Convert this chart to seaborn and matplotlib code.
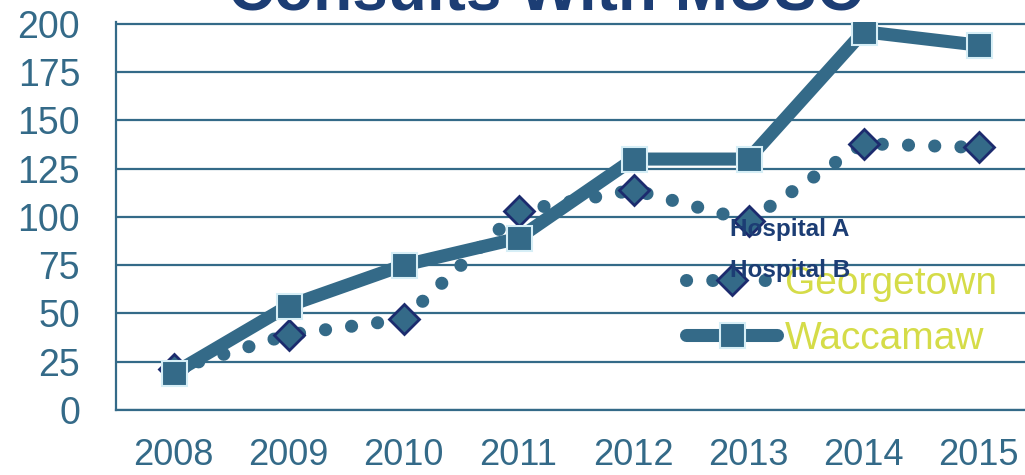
import numpy as np
import matplotlib
matplotlib.use("Agg")
import matplotlib.pyplot as plt
from matplotlib.ticker import FixedLocator
import seaborn as sns

# values
years = [2008, 2009, 2010, 2011, 2012, 2013, 2014, 2015]
georgetown = [21, 39, 47, 103, 114, 98, 138, 136]
waccamaw = [19, 54, 75, 89, 130, 130, 196, 189]
y_ticks = [0, 25, 50, 75, 100, 125, 150, 175, 200]

blue = "#346a88"
navy = "#1c3d74"
yellow = "#d5dc48"

sns.set_style("white")
plt.rcParams['font.family'] = ['Liberation Sans', 'DejaVu Sans']

fig = plt.figure(figsize=(10.25, 4.75), dpi=100)
ax = fig.add_axes([116 / 1025, 65 / 475, 920 / 1025, 388 / 475])

sns.lineplot(x=years, y=georgetown, ax=ax, color=blue, linewidth=9.4,
             linestyle=(0, (0.01, 2.0)), dash_capstyle='round',
             marker='D', markersize=15, markerfacecolor=blue,
             markeredgecolor="#1c2b6e", markeredgewidth=2, label="Georgetown",
             zorder=3)
sns.lineplot(x=years, y=waccamaw, ax=ax, color=blue, linewidth=9.4,
             solid_capstyle='round', marker='s', markersize=18,
             markerfacecolor=blue, markeredgecolor="#d6eef6",
             markeredgewidth=1.5, label="Waccamaw", zorder=4)

ax.set_xlim(years[0] - 0.5, years[-1] + 0.5)
ax.set_ylim(0, 201)
ax.set_yticks(y_ticks)
ax.set_xticks(years)
ax.set_xticklabels([str(y) for y in years])
ax.xaxis.set_minor_locator(FixedLocator([y - 0.5 for y in years] + [years[-1] + 0.5]))
ax.set_xlabel("")
ax.set_ylabel("")

ax.yaxis.grid(True, color=blue, linewidth=1.6)
ax.xaxis.grid(False)
ax.set_axisbelow(True)

for side in ["top", "right"]:
    ax.spines[side].set_visible(False)
for side in ["left", "bottom"]:
    ax.spines[side].set_color(blue)
    ax.spines[side].set_linewidth(1.6)

ax.tick_params(axis='y', direction='inout', length=19.5, width=1.6, color=blue,
               labelcolor=blue, labelsize=27, pad=16)
ax.tick_params(axis='x', which='major', length=0, labelcolor=blue,
               labelsize=26, pad=20)
ax.tick_params(axis='x', which='minor', direction='out', length=8, width=1.6,
               color=blue)

leg = ax.legend(loc='upper left', bbox_to_anchor=(686 / 1025, 1 - 266 / 475),
                bbox_transform=fig.transFigure, frameon=False, fontsize=28,
                handlelength=2.35, handletextpad=0.2, labelspacing=0.48,
                borderpad=0, borderaxespad=0, numpoints=1)
for t in leg.get_texts():
    t.set_color(yellow)

fig.text(730 / 1025, 1 - 229 / 475, "Hospital A", fontsize=17.5,
         fontweight='bold', color=navy, va='center', ha='left')
fig.text(730 / 1025, 1 - 270 / 475, "Hospital B", fontsize=17.5,
         fontweight='bold', color=navy, va='center', ha='left')

fig.text(545 / 1025, 1 - 10 / 475, "Consults With MUSC", fontsize=46,
         fontweight='bold', color=navy, va='baseline', ha='center')

fig.savefig("out.png", dpi=100)
